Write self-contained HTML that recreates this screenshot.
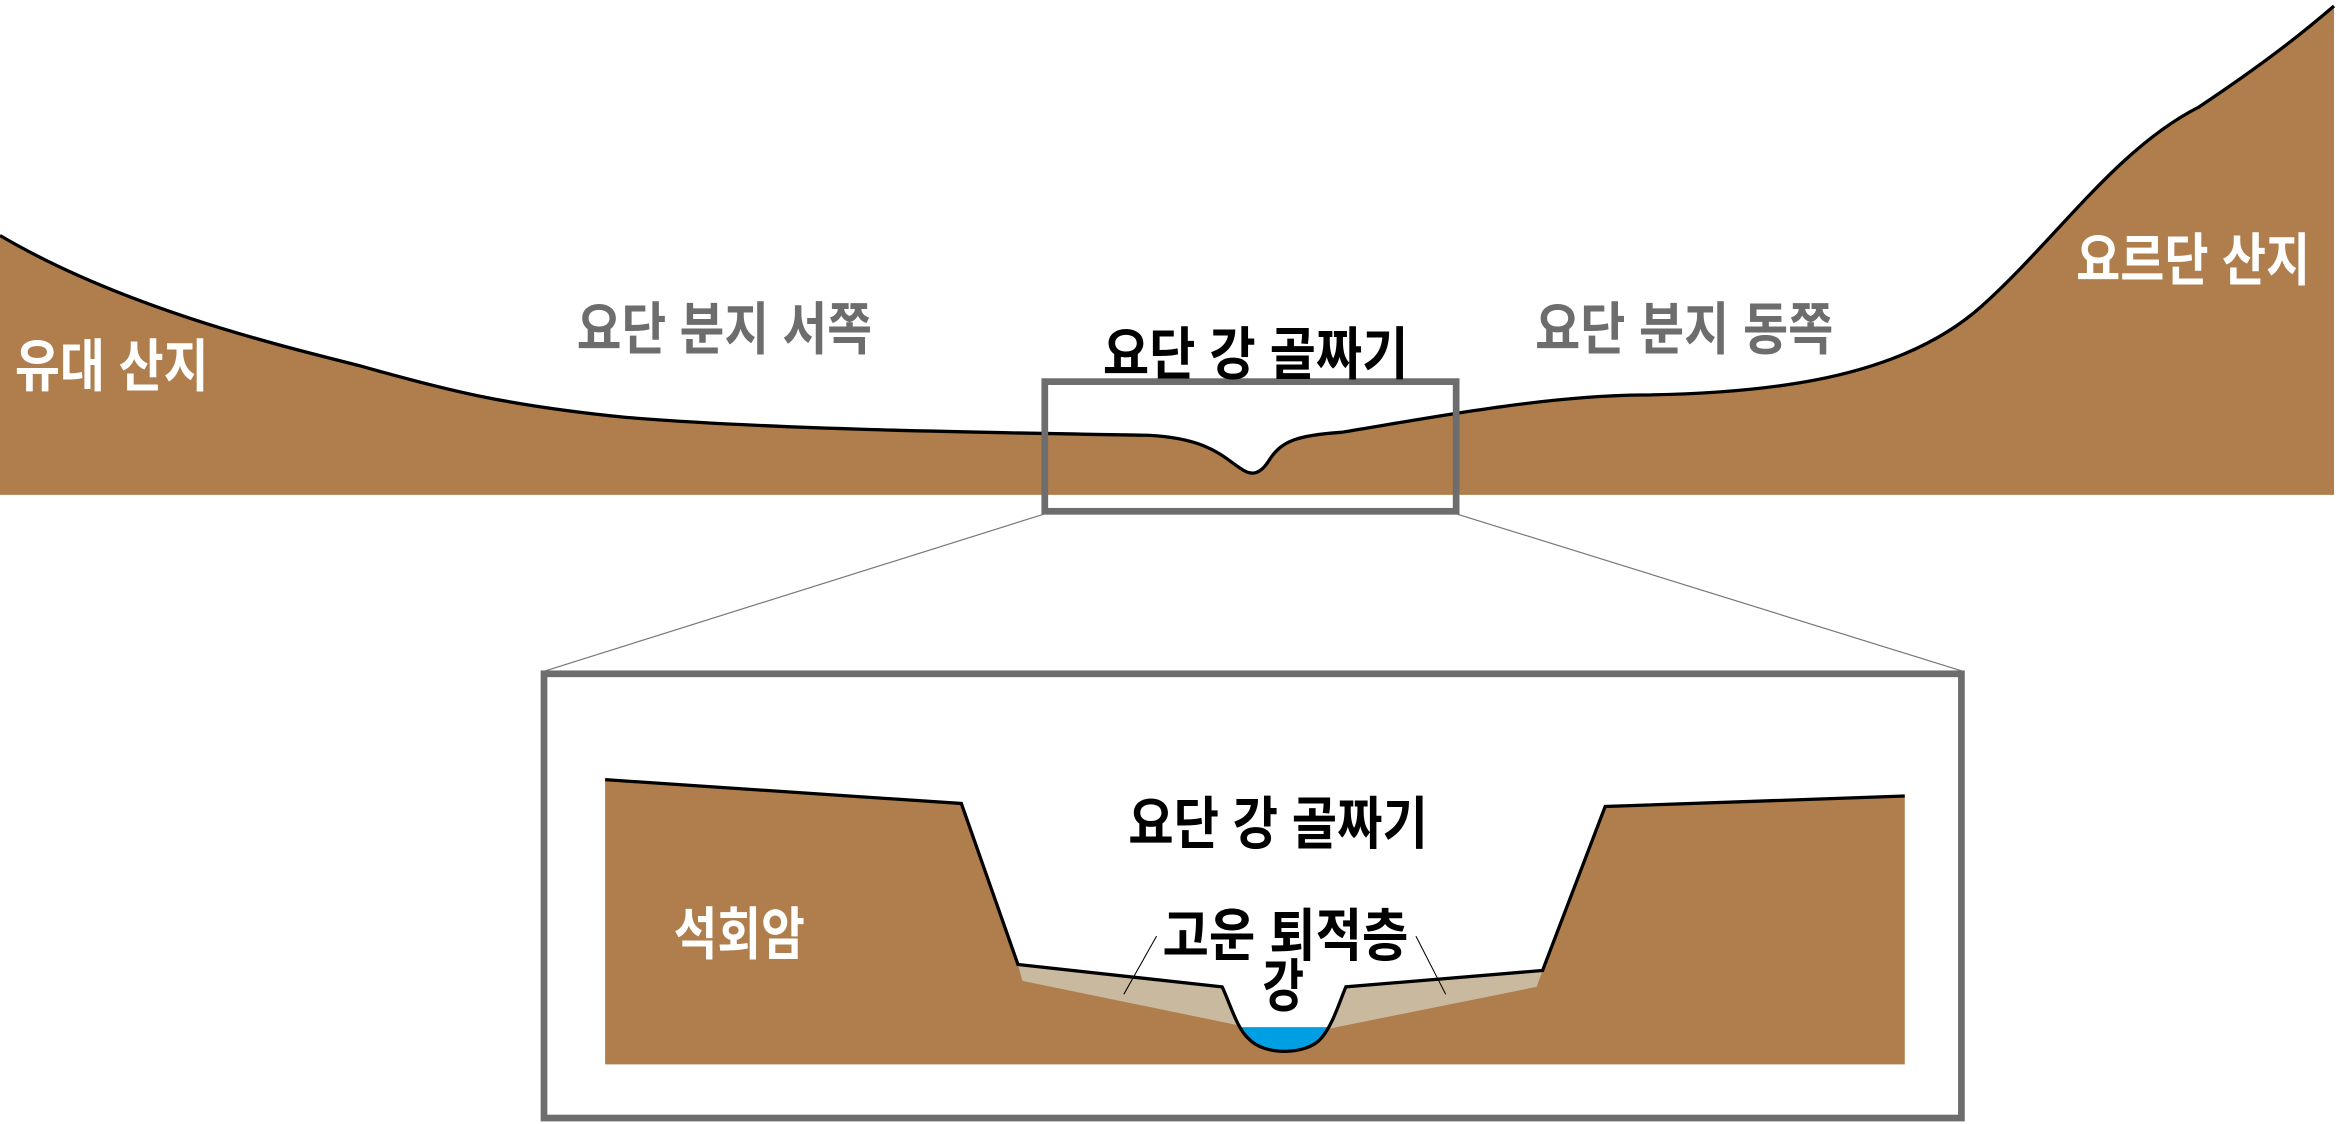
<!DOCTYPE html>
<html><head><meta charset="utf-8"><style>
html,body{margin:0;padding:0;background:#fff;}
svg{display:block;}
text{font-family:"Liberation Sans","Noto Sans CJK KR",sans-serif;font-weight:bold;}
</style></head><body>
<svg width="2337" height="1124" viewBox="0 0 1568 754" preserveAspectRatio="none" xmlns="http://www.w3.org/2000/svg">
<path d="M0,158 C80,205 180,230 240,245 C300,262 340,272 420,280 C520,288 650,290 770,292 C810,294 820,306 832,314 C840,320 846,318 852,308 C860,296 870,292 900,290 C950,282 1030,266 1100,265 C1200,264 1280,250 1330,205 C1380,160 1420,100 1475,72 C1520,42 1545,22 1566,4 L1566,332 L0,332 Z" fill="#af7e4c"/>
<path d="M0,158 C80,205 180,230 240,245 C300,262 340,272 420,280 C520,288 650,290 770,292 C810,294 820,306 832,314 C840,320 846,318 852,308 C860,296 870,292 900,290 C950,282 1030,266 1100,265 C1200,264 1280,250 1330,205 C1380,160 1420,100 1475,72 C1520,42 1545,22 1566,4" fill="none" stroke="#000" stroke-width="2.2"/>
<rect x="701" y="256" width="276" height="87" fill="none" stroke="#6d6d6d" stroke-width="4.5"/>
<line x1="700" y1="345" x2="366" y2="450" stroke="#777" stroke-width="0.8"/>
<line x1="978" y1="345" x2="1316" y2="450" stroke="#777" stroke-width="0.8"/>
<rect x="365" y="452" width="951" height="298" fill="none" stroke="#6d6d6d" stroke-width="4.5"/>
<path d="M406,523 L645,539 L683,647 L820,662 C826,675 830,690 838,697 C848,708 876,708 886,697 C894,688 898,674 903,662 L1035,651 L1077,541 L1278,534 L1278,714 L406,714 Z" fill="#af7e4c"/>
<path d="M683,647 L820,662 L832,688 L686,658 Z" fill="#c9b99e"/>
<path d="M903,662 L1035,651 L1031,662 L892,690 Z" fill="#c9b99e"/>
<path d="M833,689 L891,689 C887,700 878,706 862,706 C846,706 838,700 833,689 Z" fill="#009fe3"/>
<path d="M406,523 L645,539 L683,647 L820,662 C826,675 830,690 838,697 C848,708 876,708 886,697 C894,688 898,674 903,662 L1035,651 L1077,541 L1278,534" fill="none" stroke="#000" stroke-width="2.2"/>
<line x1="776" y1="628" x2="754" y2="667" stroke="#000" stroke-width="0.7"/>
<line x1="950" y1="628" x2="970" y2="667" stroke="#000" stroke-width="0.7"/>
<g font-size="38" lengthAdjust="spacingAndGlyphs">
<text x="10" y="259" fill="#fff" textLength="130" lengthAdjust="spacingAndGlyphs">유대 산지</text>
<text x="387" y="234" fill="#6d6d6d" textLength="198" lengthAdjust="spacingAndGlyphs">요단 분지 서쪽</text>
<text x="740" y="251" fill="#000" textLength="205" lengthAdjust="spacingAndGlyphs">요단 강 골짜기</text>
<text x="1030" y="234" fill="#6d6d6d" textLength="200" lengthAdjust="spacingAndGlyphs">요단 분지 동쪽</text>
<text x="1393" y="188" fill="#fff" textLength="157" lengthAdjust="spacingAndGlyphs">요르단 산지</text>
<text x="757" y="566" fill="#000" textLength="201" lengthAdjust="spacingAndGlyphs">요단 강 골짜기</text>
<text x="452" y="640" fill="#fff" textLength="88" lengthAdjust="spacingAndGlyphs">석회암</text>
<text x="780" y="641" fill="#000" textLength="165" lengthAdjust="spacingAndGlyphs">고운 퇴적층</text>
<text x="847" y="675" fill="#000" textLength="28" lengthAdjust="spacingAndGlyphs">강</text>
</g>
</svg>
</body></html>
